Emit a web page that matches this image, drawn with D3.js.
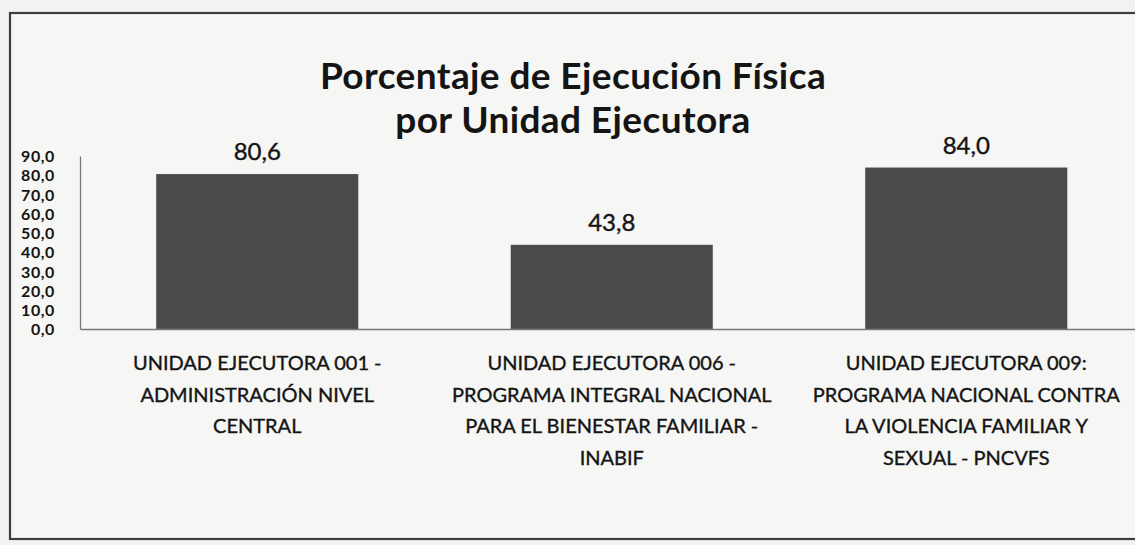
<!DOCTYPE html>
<html>
<head>
<meta charset="utf-8">
<script src="https://cdn.jsdelivr.net/npm/d3@7"></script>
<style>
  html, body { margin: 0; padding: 0; background: #f2f2f0; }
  svg { display: block; }
</style>
</head>
<body>
<svg id="chart" width="1135" height="545"></svg>
<script>
const titleLines = ["Porcentaje de Ejecución Física", "por Unidad Ejecutora"];
const categories = ["UE001", "UE006", "UE009"];
const categoryLabels = [
  ["UNIDAD EJECUTORA 001 -", "ADMINISTRACIÓN NIVEL", "CENTRAL"],
  ["UNIDAD EJECUTORA 006 -", "PROGRAMA INTEGRAL NACIONAL", "PARA EL BIENESTAR FAMILIAR -", "INABIF"],
  ["UNIDAD EJECUTORA 009:", "PROGRAMA NACIONAL CONTRA", "LA VIOLENCIA FAMILIAR Y", "SEXUAL - PNCVFS"]
];
const values = [80.6, 43.8, 84.0];
const tickValues = [0, 10, 20, 30, 40, 50, 60, 70, 80, 90];

const fmt = v => d3.format(".1f")(v).replace(".", ",");
const font = "Lato, 'Open Sans', sans-serif";
const ink = "#141414";

const svg = d3.select("#chart");

// frame
svg.append("rect").attr("x", 10).attr("y", 13).attr("width", 1140).attr("height", 526)
  .attr("fill", "#f6f6f4").attr("stroke", "#3e3e3e").attr("stroke-width", 2.2);

const x = d3.scaleBand().domain(categories).range([80, 1143.5]).paddingInner(0.43).paddingOuter(0.215);
const y = d3.scaleLinear().domain([0, 90]).range([329, 156]);

// title
svg.append("g").selectAll("text").data(titleLines).join("text")
  .attr("x", 573).attr("y", (d, i) => 89 + i * 44)
  .attr("text-anchor", "middle")
  .attr("font-family", font).attr("font-weight", "bold").attr("font-size", 37)
  .attr("letter-spacing", 0.4)
  .attr("fill", ink).text(d => d);

// bars
svg.append("g").selectAll("rect").data(values).join("rect")
  .attr("x", (d, i) => x(categories[i]))
  .attr("y", d => y(d))
  .attr("width", x.bandwidth())
  .attr("height", d => y(0) - y(d))
  .attr("fill", "#4b4b4b");

// value labels
svg.append("g").selectAll("text").data(values).join("text")
  .attr("x", (d, i) => x(categories[i]) + x.bandwidth() / 2)
  .attr("y", d => y(d) - 14)
  .attr("text-anchor", "middle")
  .attr("font-family", font).attr("font-size", 24)
  .attr("fill", ink).attr("stroke", ink).attr("stroke-width", 0.4)
  .text(d => fmt(d));

// y axis
const yAxis = d3.axisLeft(y).tickValues(tickValues).tickFormat(fmt).tickSize(0).tickPadding(0);
const gy = svg.append("g").attr("transform", "translate(80,0)").call(yAxis);
gy.select(".domain").attr("stroke", "#777").attr("stroke-width", 1.3);
gy.selectAll("text").attr("x", -25).attr("font-family", font).attr("font-size", 16)
  .attr("font-weight", "bold").attr("letter-spacing", 0.6)
  .attr("fill", ink).attr("dy", "0.36em");

// x axis baseline
const xAxis = d3.axisBottom(x).tickSize(0).tickFormat("");
const gx = svg.append("g").attr("transform", "translate(0,329)").call(xAxis);
gx.select(".domain").attr("stroke", "#777").attr("stroke-width", 1.3);

// category labels
const gl = svg.append("g");
categories.forEach((c, i) => {
  gl.append("g").selectAll("text").data(categoryLabels[i]).join("text")
    .attr("x", x(c) + x.bandwidth() / 2)
    .attr("y", (d, j) => 370 + j * 31.5)
    .attr("text-anchor", "middle")
    .attr("font-family", font).attr("font-size", 20)
    .attr("fill", ink).attr("stroke", ink).attr("stroke-width", 0.35)
    .text(d => d);
});
</script>
</body>
</html>
